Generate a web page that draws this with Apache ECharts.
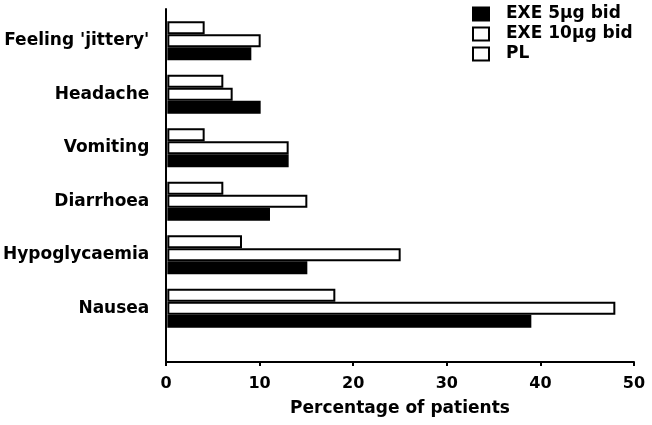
<!DOCTYPE html>
<html>
<head>
<meta charset="utf-8">
<script src="https://cdn.jsdelivr.net/npm/echarts@6/dist/echarts.min.js"></script>
<style>
  html, body { margin: 0; background: #fff; }
  #main { width: 652px; height: 425px; }
</style>
</head>
<body>
<div id="main"></div>
<script>
// 数据
const categories = ["Feeling 'jittery'", 'Headache', 'Vomiting', 'Diarrhoea', 'Hypoglycaemia', 'Nausea']
const exe5 = [9, 10, 13, 11, 15, 39]
const exe10 = [10, 7, 13, 15, 25, 48]
const placebo = [4, 6, 4, 6, 8, 18]
const xMin = 0
const xMax = 50
const xStep = 10

const font = 'DejaVu Sans'
const myChart = echarts.init(document.getElementById('main'))

myChart.setOption({
  animation: false,
  legend: {
    data: ['EXE 5μg bid', 'EXE 10μg bid', 'PL'],
    icon: 'rect',
    orient: 'vertical',
    left: 472,
    top: 5.5,
    padding: 0,
    itemWidth: 16,
    itemHeight: 13,
    itemGap: 3,
    textStyle: { fontFamily: font, fontWeight: 'bold', fontSize: 17, color: '#000', lineHeight: 14, padding: [0, 0, 0, 12] }
  },
  grid: [
    // bars
    { left: 166, right: 18, top: 14, height: 321 },
    // frame with axes
    { left: 166, right: 18, top: 9, bottom: 63 }
  ],
  xAxis: [
    { gridIndex: 0, type: 'value', min: xMin, max: xMax, interval: xStep, show: false },
    {
      gridIndex: 1, type: 'value', min: xMin, max: xMax, interval: xStep,
      name: 'Percentage of patients',
      nameLocation: 'middle',
      nameGap: 38,
      nameTextStyle: { fontFamily: font, fontWeight: 'bold', fontSize: 17, color: '#000' },
      axisLine: { lineStyle: { color: '#000', width: 2 } },
      axisTick: { length: 4, lineStyle: { color: '#000', width: 2 } },
      axisLabel: { margin: 14, fontFamily: font, fontWeight: 'bold', fontSize: 16, color: '#000' },
      splitLine: { show: false }
    }
  ],
  yAxis: [
    {
      gridIndex: 0, type: 'category', data: categories, inverse: true,
      axisLine: { show: false },
      axisTick: { show: false },
      axisLabel: { margin: 18, fontFamily: font, fontWeight: 'bold', fontSize: 17, color: '#000' }
    },
    {
      gridIndex: 1, type: 'value', min: 0, max: 1,
      axisLine: { show: true, lineStyle: { color: '#000', width: 2 } },
      axisTick: { show: false },
      axisLabel: { show: false },
      splitLine: { show: false }
    }
  ],
  series: [
    {
      name: 'PL', type: 'bar', data: placebo, barWidth: 13, barGap: '0%',
      itemStyle: { color: '#fff', borderColor: '#000', borderWidth: 2 }
    },
    {
      name: 'EXE 10μg bid', type: 'bar', data: exe10, barWidth: 13, barGap: '0%',
      itemStyle: { color: '#fff', borderColor: '#000', borderWidth: 2 }
    },
    {
      name: 'EXE 5μg bid', type: 'bar', data: exe5, barWidth: 13, barGap: '0%',
      itemStyle: { color: '#000', borderColor: '#000', borderWidth: 2 }
    }
  ]
})
</script>
</body>
</html>
